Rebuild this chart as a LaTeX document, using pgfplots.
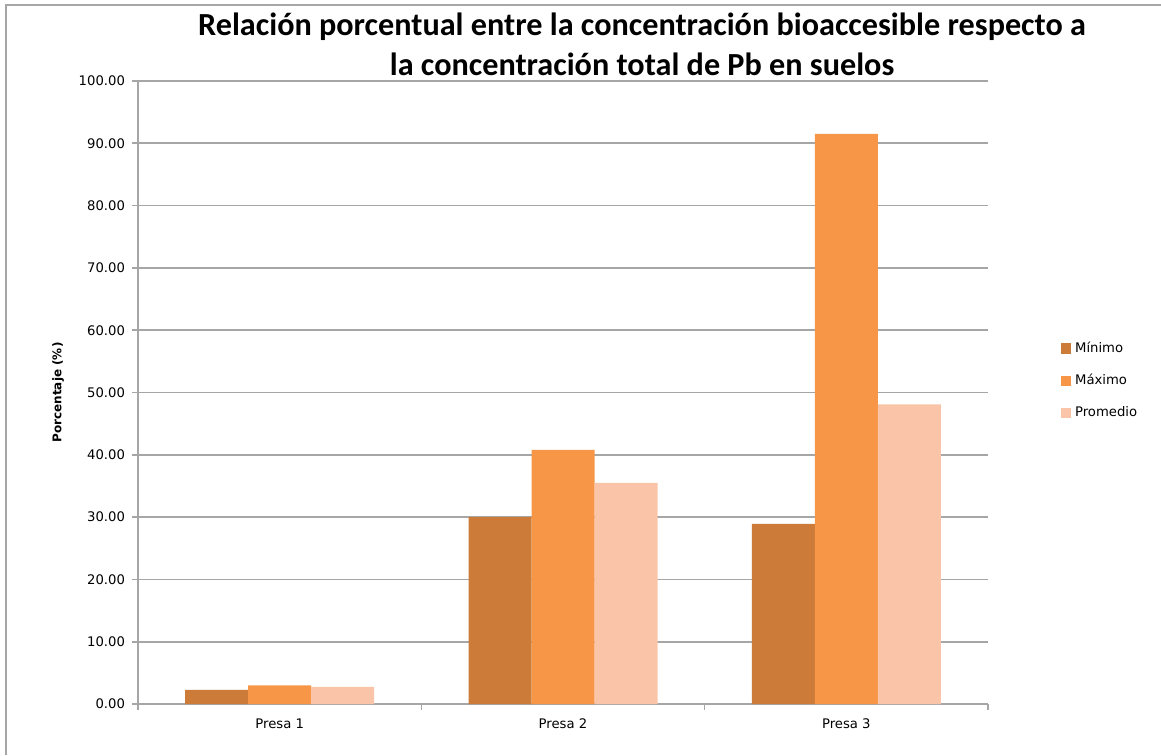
\documentclass[border=0pt]{standalone}
\usepackage{pgfplots}
\pgfplotsset{compat=1.18}
\usepackage{fontspec}
\setmainfont{DejaVu Sans}
\newfontfamily\titlefont{Carlito}

\definecolor{cmin}{HTML}{CC7B38}
\definecolor{cmax}{HTML}{F79646}
\definecolor{cprom}{HTML}{FAC4A9}
\definecolor{gridgray}{HTML}{A6A6A6}

\begin{document}
\begin{tikzpicture}
\useasboundingbox (-69pt,-25.5pt) rectangle (511.5pt,352pt);
\draw[gridgray,line width=1pt] (-66pt,-25.5pt) -- (-66pt,349.5pt) -- (511.5pt,349.5pt);
\begin{axis}[
  at={(0,0)},anchor=south west,
  scale only axis,
  width=425pt,height=311.5pt,
  ybar=0pt,bar width=31.5pt,
  xmin=-0.5,xmax=2.5,ymin=0,ymax=100,
  xtick={0,1,2},xticklabels={Presa 1,Presa 2,Presa 3},
  minor xtick={-0.5,0.5,1.5,2.5},
  major x tick style={draw=none},
  minor tick length=3pt,
  ytick distance=10,
  major tick length=3pt,
  tick align=outside,
  tick style={gridgray,line width=0.8pt},
  yticklabel={\pgfmathprintnumber[fixed,fixed zerofill,precision=2]{\tick}},
  /pgf/number format/assume math mode=true,
  ymajorgrids,
  grid style={gridgray,line width=0.8pt},
  axis x line*=bottom,axis y line*=left,
  axis line style={gridgray,line width=0.8pt},
  tick label style={font=\fontsize{6.6}{8}\selectfont,text=black},
  xticklabel style={yshift=-1pt},
  ylabel={Porcentaje (\%)},
  ylabel style={font=\fontsize{6}{7}\selectfont\bfseries,at={(axis description cs:-0.094,0.5)},anchor=center,rotate=0},
  title={Relación porcentual entre la concentración bioaccesible respecto a\\la concentración total de Pb en suelos},
  title style={font=\titlefont\bfseries\fontsize{16.1}{20}\selectfont,align=center,at={(axis description cs:0.593,1.112)},anchor=north,inner sep=0pt,yshift=-6.5pt},
  legend style={at={(1.078,0.595)},anchor=north west,draw=none,fill=none,
    font=\fontsize{6.6}{8}\selectfont,row sep=5.4pt,
    /tikz/every even column/.append style={column sep=2pt}},
  legend cell align=left,
  legend image code/.code={\fill[#1] (0pt,-2.6pt) rectangle (5.2pt,2.6pt);},
  every axis plot/.append style={draw=none},
]
\addplot[fill=cmin] coordinates {(0,2.25) (1,30.0) (2,28.9)};
\addplot[fill=cmax] coordinates {(0,3.0) (1,40.8) (2,91.5)};
\addplot[fill=cprom] coordinates {(0,2.75) (1,35.5) (2,48.1)};
\legend{Mínimo,Máximo,Promedio}
\end{axis}
\end{tikzpicture}
\end{document}
